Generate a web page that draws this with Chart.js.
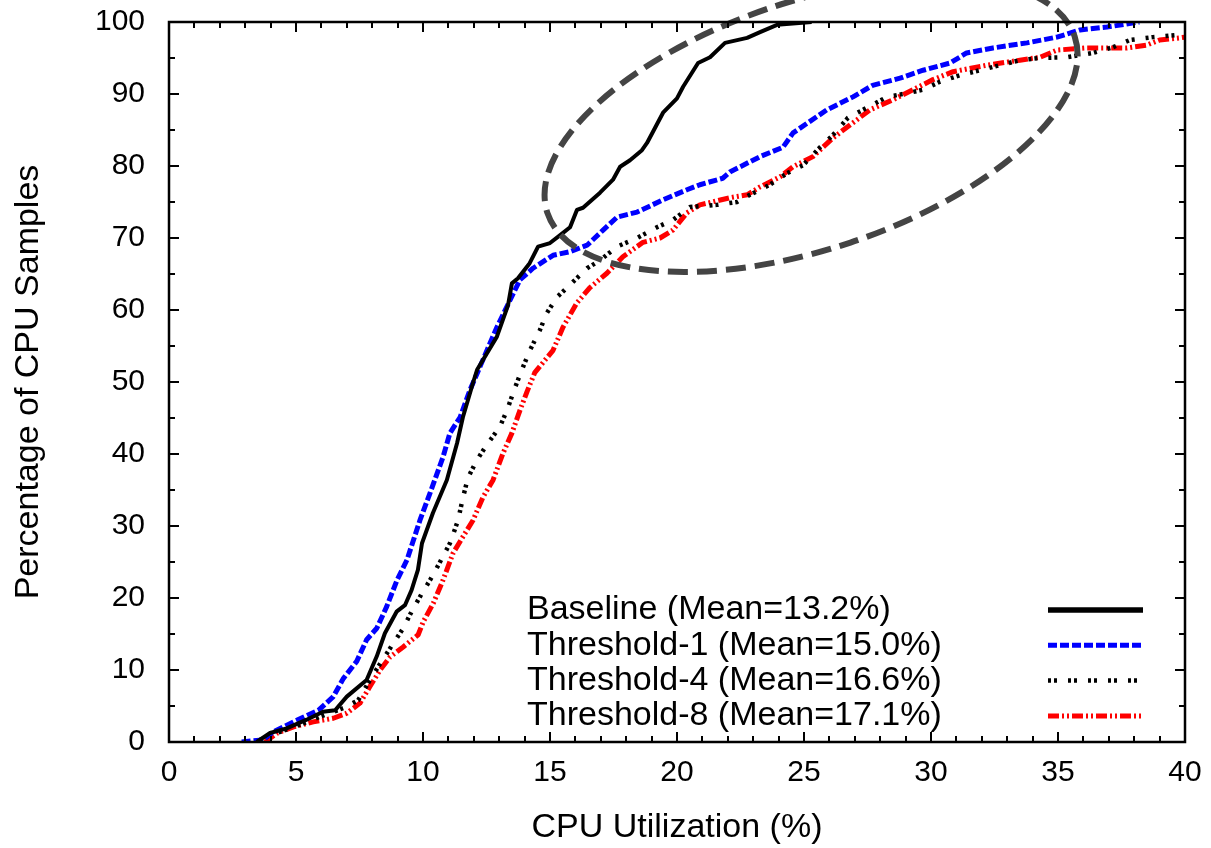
<!DOCTYPE html>
<html>
<head>
<meta charset="utf-8">
<title>CPU Utilization CDF</title>
<script src="https://cdn.jsdelivr.net/npm/chart.js@4.4.1/dist/chart.umd.min.js"></script>
<style>
    html, body { margin: 0; padding: 0; background: #ffffff; }
    #cdfChart { display: block; }
</style>
</head>
<body>
<canvas id="cdfChart" width="1211" height="848"></canvas>
<script>
// ============================================
// CPU utilization CDF - four configurations
// ============================================

const seriesLabels = [
    'Baseline (Mean=13.2%)',
    'Threshold-1 (Mean=15.0%)',
    'Threshold-4 (Mean=16.6%)',
    'Threshold-8 (Mean=17.1%)'
];

// Baseline
const baseX = [3.45, 3.98, 4.63, 5.42, 6.06, 6.54, 7.0, 7.78, 8.18, 8.5, 8.96, 9.29, 9.55, 9.8, 9.96, 10.39, 10.94, 11.34, 11.57, 11.97, 12.13, 12.91, 13.35, 13.5, 13.74, 14.2, 14.53, 15.0, 15.4, 15.79, 16.06, 16.3, 16.97, 17.48, 17.76, 18.15, 18.62, 18.82, 19.45, 20.0, 20.24, 20.83, 21.3, 21.89, 22.76, 23.27, 23.94, 25.3];
const baseY = [0, 1.25, 1.9, 3.1, 4.2, 4.4, 6.3, 8.6, 11.9, 15.1, 18.1, 19.0, 21.1, 23.9, 27.6, 31.8, 36.4, 41.5, 45.1, 49.9, 51.7, 56.3, 60.7, 63.7, 64.4, 66.5, 68.8, 69.3, 70.4, 71.5, 73.9, 74.2, 76.3, 78.1, 79.9, 80.8, 82.2, 83.2, 87.4, 89.4, 91.0, 94.3, 95.1, 97.1, 97.8, 98.6, 99.6, 100];

// Threshold-1
const t1X = [2.86, 3.71, 4.1, 4.9, 5.88, 6.47, 6.86, 7.39, 7.78, 8.18, 8.57, 8.98, 9.37, 9.88, 10.28, 10.79, 11.06, 11.46, 11.85, 12.24, 12.91, 13.43, 13.82, 14.33, 15.12, 15.79, 16.46, 17.09, 17.64, 18.43, 19.45, 20.39, 20.9, 21.8, 22.1, 23.27, 24.17, 24.57, 25.9, 26.93, 27.7, 28.78, 29.69, 30.75, 31.4, 32.44, 33.78, 34.96, 35.87, 36.93, 38.2];
const t1Y = [0, 0.3, 1.4, 2.8, 4.4, 6.3, 8.8, 11.2, 14.2, 15.8, 18.8, 22.5, 25.3, 30.8, 34.6, 39.6, 42.9, 45.1, 48.9, 52.1, 57.6, 61.4, 64.2, 65.8, 67.6, 68.1, 69.0, 71.1, 72.9, 73.6, 75.3, 76.7, 77.4, 78.3, 79.2, 81.3, 82.6, 84.6, 87.8, 89.6, 91.2, 92.2, 93.3, 94.3, 95.7, 96.4, 97.1, 97.9, 98.9, 99.3, 100];

// Threshold-4
const t4X = [3.58, 4.37, 5.16, 5.94, 6.86, 7.45, 7.91, 8.37, 8.83, 9.22, 9.55, 9.95, 10.28, 10.67, 11.06, 11.38, 11.57, 11.77, 12.13, 12.52, 13.03, 13.31, 13.62, 13.94, 14.21, 14.6, 14.88, 15.28, 15.79, 16.46, 16.97, 17.64, 18.43, 19.21, 19.84, 20.51, 21.57, 22.36, 22.87, 23.66, 24.33, 24.96, 25.63, 26.14, 26.73, 27.48, 28.27, 29.06, 29.69, 30.35, 31.14, 31.93, 32.72, 33.5, 34.29, 35.35, 36.38, 37.17, 37.83, 38.74, 39.7, 40];
const t4Y = [0.3, 1.4, 2.4, 3.5, 4.7, 5.8, 8.6, 11.2, 13.7, 15.8, 18.1, 20.6, 22.5, 25.0, 27.6, 30.8, 33.9, 36.7, 39.2, 41.3, 43.8, 46.1, 49.2, 52.1, 54.4, 57.2, 59.6, 61.8, 63.5, 65.8, 66.9, 68.8, 70.0, 71.5, 72.5, 74.3, 74.6, 75.0, 76.0, 77.4, 79.0, 80.1, 82.6, 84.3, 86.7, 88.1, 89.6, 90.1, 90.6, 91.7, 92.6, 93.3, 94.0, 94.7, 95.0, 95.1, 95.7, 96.5, 97.5, 97.9, 98.2, 98.3];

// Threshold-8
const t8X = [3.78, 4.24, 4.9, 5.68, 6.47, 7.0, 7.52, 7.91, 8.31, 8.7, 9.22, 9.81, 10.01, 10.41, 10.79, 11.18, 11.57, 11.97, 12.36, 12.76, 13.15, 13.5, 13.82, 14.1, 14.4, 15.12, 15.51, 16.06, 16.57, 17.24, 17.87, 18.66, 19.33, 19.84, 20.39, 20.9, 22.09, 22.76, 23.27, 24.06, 24.57, 25.35, 26.14, 26.81, 27.6, 28.5, 29.29, 30.08, 30.87, 32.2, 33.5, 34.29, 34.96, 36.14, 37.72, 38.5, 39.0, 39.8, 40];
const t8Y = [0, 1.2, 2.1, 2.8, 3.3, 4.0, 5.4, 7.7, 10.0, 11.8, 13.2, 14.9, 16.7, 19.3, 22.5, 26.2, 28.5, 30.8, 34.0, 36.4, 40.1, 42.9, 46.1, 48.7, 51.3, 54.4, 57.6, 61.0, 63.1, 65.1, 67.4, 69.4, 70.0, 71.1, 73.5, 74.6, 75.6, 76.0, 77.1, 78.5, 79.9, 81.3, 83.9, 85.7, 87.8, 89.2, 90.6, 92.0, 93.1, 94.0, 94.7, 95.1, 96.1, 96.4, 96.4, 96.8, 97.5, 97.8, 97.9];

// axis ranges / ticks
const xMin = 0, xMax = 40, xMajor = 5, xMinor = 1;
const yMin = 0, yMax = 100, yMajor = 10, yMinor = 5;

// highlighted region (center in data units)
const ellipseCenter = [25.28, 85.7];

const FONT = "'Liberation Sans', Arial, sans-serif";

function toPoints(xs, ys) {
    return xs.map((x, i) => ({ x: x, y: ys[i] }));
}

// 內向刻度 + 外框
const frameTicks = {
    id: 'frameTicks',
    afterDraw(chart) {
        const { ctx, chartArea: a, scales: { x, y } } = chart;
        ctx.save();
        ctx.strokeStyle = '#000';
        ctx.lineWidth = 2;
        for (let v = xMin; v <= xMax; v += xMinor) {
            const px = Math.round(x.getPixelForValue(v));
            const len = v % xMajor === 0 ? 10 : 6;
            ctx.beginPath();
            ctx.moveTo(px, a.bottom); ctx.lineTo(px, a.bottom - len);
            ctx.moveTo(px, a.top); ctx.lineTo(px, a.top + len);
            ctx.stroke();
        }
        for (let v = yMin; v <= yMax; v += yMinor) {
            const py = Math.round(y.getPixelForValue(v));
            const len = v % yMajor === 0 ? 10 : 6;
            ctx.beginPath();
            ctx.moveTo(a.left, py); ctx.lineTo(a.left + len, py);
            ctx.moveTo(a.right, py); ctx.lineTo(a.right - len, py);
            ctx.stroke();
        }
        ctx.lineWidth = 2.5;
        ctx.strokeRect(a.left, a.top, a.right - a.left, a.bottom - a.top);
        ctx.restore();
    }
};

// 虛線橢圓標註
const ellipseNote = {
    id: 'ellipseNote',
    afterDatasetsDraw(chart) {
        const { ctx, scales: { x, y } } = chart;
        const cx = x.getPixelForValue(ellipseCenter[0]);
        const cy = y.getPixelForValue(ellipseCenter[1]);
        ctx.save();
        ctx.strokeStyle = '#444444';
        ctx.lineWidth = 6;
        ctx.setLineDash([20, 9]);
        ctx.beginPath();
        ctx.ellipse(cx, cy, 278, 124, -18.5 * Math.PI / 180, 0, Math.PI * 2);
        ctx.stroke();
        ctx.restore();
    }
};

// 圖例 (右下, 文字在左, 線段在右)
const insideLegend = {
    id: 'insideLegend',
    afterDraw(chart) {
        const { ctx } = chart;
        ctx.save();
        ctx.font = '34px ' + FONT;
        ctx.textBaseline = 'middle';
        ctx.textAlign = 'left';
        chart.data.datasets.forEach((ds, i) => {
            const rowY = 610 + i * 35.3;
            ctx.fillStyle = '#000';
            ctx.fillText(ds.label, 527, rowY);
            ctx.strokeStyle = ds.borderColor;
            ctx.lineWidth = i === 0 ? 5.5 : ds.borderWidth;
            ctx.setLineDash(ds.borderDash || []);
            ctx.beginPath();
            ctx.moveTo(1048, rowY);
            ctx.lineTo(1143, rowY);
            ctx.stroke();
        });
        ctx.restore();
    }
};

document.addEventListener('DOMContentLoaded', function () {
    const canvas = document.getElementById('cdfChart');

    new Chart(canvas, {
        type: 'line',
        data: {
            datasets: [{
                label: seriesLabels[0],
                data: toPoints(baseX, baseY),
                borderColor: '#000000',
                borderWidth: 4,
                borderDash: []
            }, {
                label: seriesLabels[1],
                data: toPoints(t1X, t1Y),
                borderColor: '#0000ff',
                borderWidth: 5,
                borderDash: [9, 3]
            }, {
                label: seriesLabels[2],
                data: toPoints(t4X, t4Y),
                borderColor: '#000000',
                borderWidth: 4.5,
                borderDash: [3, 3, 3, 11]
            }, {
                label: seriesLabels[3],
                data: toPoints(t8X, t8Y),
                borderColor: '#ff0000',
                borderWidth: 5,
                borderDash: [11, 3, 2, 3, 2, 3]
            }]
        },
        options: {
            responsive: false,
            animation: false,
            devicePixelRatio: 1,
            layout: {
                padding: { top: 22, right: 26, left: 0, bottom: 0 }
            },
            elements: {
                point: { radius: 0 },
                line: { tension: 0, fill: false, borderCapStyle: 'butt', borderJoinStyle: 'round' }
            },
            plugins: {
                legend: { display: false },
                tooltip: { enabled: false }
            },
            scales: {
                x: {
                    type: 'linear',
                    min: xMin,
                    max: xMax,
                    afterFit: function (scale) {
                        scale.height = 106;
                        scale.paddingLeft = 0;
                        scale.paddingRight = 0;
                    },
                    grid: { display: false, drawTicks: false },
                    border: { display: false },
                    ticks: {
                        stepSize: xMajor,
                        padding: 13,
                        color: '#000',
                        font: { size: 30, family: FONT }
                    },
                    title: {
                        display: true,
                        text: 'CPU Utilization (%)',
                        color: '#000',
                        font: { size: 34, family: FONT, lineHeight: 1.2 },
                        padding: { top: 0, bottom: 0 }
                    }
                },
                y: {
                    type: 'linear',
                    min: yMin,
                    max: yMax,
                    afterFit: function (scale) {
                        scale.width = 169;
                        scale.paddingTop = 0;
                        scale.paddingBottom = 0;
                    },
                    grid: { display: false, drawTicks: false },
                    border: { display: false },
                    ticks: {
                        stepSize: yMajor,
                        padding: 24,
                        color: '#000',
                        font: { size: 30, family: FONT }
                    },
                    title: {
                        display: true,
                        text: 'Percentage of CPU Samples',
                        color: '#000',
                        font: { size: 34, family: FONT, lineHeight: 1.2 },
                        padding: { top: 8, bottom: 0 }
                    }
                }
            }
        },
        plugins: [frameTicks, ellipseNote, insideLegend]
    });
});
</script>
</body>
</html>
